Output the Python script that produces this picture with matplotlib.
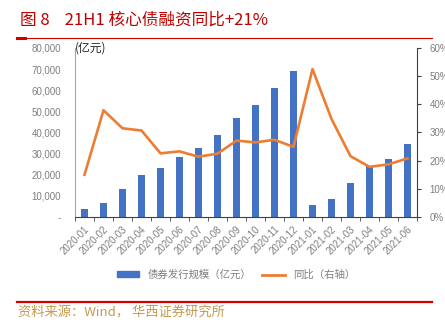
import matplotlib
matplotlib.use("Agg")
import matplotlib.pyplot as plt
from matplotlib.lines import Line2D
from matplotlib.patches import Patch
import numpy as np

plt.rcParams['font.family'] = ['Liberation Sans', 'Noto Sans CJK SC', 'DejaVu Sans']

months = ["2020-01", "2020-02", "2020-03", "2020-04", "2020-05", "2020-06",
          "2020-07", "2020-08", "2020-09", "2020-10", "2020-11", "2020-12",
          "2021-01", "2021-02", "2021-03", "2021-04", "2021-05", "2021-06"]
issuance = [3800, 6500, 13300, 20000, 23200, 28400, 32800, 38700, 46800,
            52900, 61300, 69000, 5800, 8400, 16300, 24200, 27500, 34400]
yoy = [15.0, 37.9, 31.5, 30.7, 22.6, 23.3, 21.4, 22.5, 27.1, 26.5, 27.4,
       24.9, 52.5, 34.8, 21.6, 17.8, 18.7, 20.8]
left_ticks = [0, 10000, 20000, 30000, 40000, 50000, 60000, 70000, 80000]
right_ticks = [0, 10, 20, 30, 40, 50, 60]

blue = "#4472C4"
orange = "#ED7D31"
gray = "#7F7F7F"
red = "#C00000"
cjk = ['Noto Sans CJK SC', 'DejaVu Sans']

fig = plt.figure(figsize=(4.45, 3.28), dpi=100)
fig.patch.set_facecolor("white")

# title and rules
fig.text(20 / 445, 1 - 20 / 328, "图 8    21H1 核心债融资同比+21%", color=red,
         fontsize=12, va="center", ha="left", family=cjk)
fig.add_artist(Line2D([17 / 445, 432 / 445], [1 - 38 / 328] * 2,
                      color="#D00000", lw=0.8))
fig.add_artist(Line2D([17 / 445, 25 / 445], [1 - 38 / 328] * 2,
                      color="#D00000", lw=2.2))
fig.add_artist(Line2D([17 / 445, 432 / 445], [1 - 302 / 328] * 2,
                      color="#D00000", lw=1.6))
fig.text(18 / 445, 1 - 313 / 328, "资料来源：Wind， 华西证券研究所",
         color="#C49A50", fontsize=9.5, va="center", ha="left", family=cjk)

ax = fig.add_axes([75 / 445, 111 / 328, 342 / 445, 169 / 328])
x = np.arange(len(months))
ax.bar(x, issuance, width=0.32, color=blue, zorder=2)
ax.set_xlim(-0.5, len(months) - 0.5)
ax.set_ylim(0, 80000)
ax.set_yticks(left_ticks)
ax.set_yticklabels(["-"] + [f"{v:,}" for v in left_ticks[1:]])
ax.set_xticks(x)
ax.set_xticklabels(months, rotation=45, ha="right", rotation_mode="anchor")
ax.set_xticks(np.arange(-0.5, len(months), 1), minor=True)
ax.tick_params(axis="x", which="major", length=0, pad=5, labelsize=7,
               labelcolor=gray)
ax.tick_params(axis="x", which="minor", length=3, color="#404040",
               direction="out")
ax.tick_params(axis="y", length=0, labelsize=7, labelcolor=gray, pad=10)
for side in ["top", "right"]:
    ax.spines[side].set_visible(False)
ax.spines["left"].set_color("#A6A6A6")
ax.spines["bottom"].set_color("#404040")
ax.text(0.0, 1.0, "(亿元)", transform=ax.transAxes, fontsize=8.5,
        va="center", ha="left", color="#262626", family=cjk)

# right axis labels run past the figure edge, as in the original layout
ax2 = ax.twinx()
ax2.plot(x, yoy, color=orange, lw=1.9, zorder=3)
ax2.set_ylim(0, 60)
ax2.set_yticks(right_ticks)
ax2.set_yticklabels([f"{v}%" for v in right_ticks])
ax2.tick_params(axis="y", length=3, color="#404040", labelsize=7,
                labelcolor=gray, pad=6)
for side in ["top", "left", "bottom"]:
    ax2.spines[side].set_visible(False)
ax2.spines["right"].set_color("#404040")

handles = [Patch(color=blue), Line2D([], [], color=orange, lw=2)]
fig.legend(handles, ["债券发行规模（亿元）", "同比（右轴）"],
           loc="center", bbox_to_anchor=(236 / 445, 1 - 275 / 328),
           ncol=2, frameon=False, handlelength=2.2,
           handleheight=0.5, columnspacing=1.0, labelcolor=gray,
           prop={'family': cjk, 'size': 7.5})

fig.savefig("out.png", dpi=100)
